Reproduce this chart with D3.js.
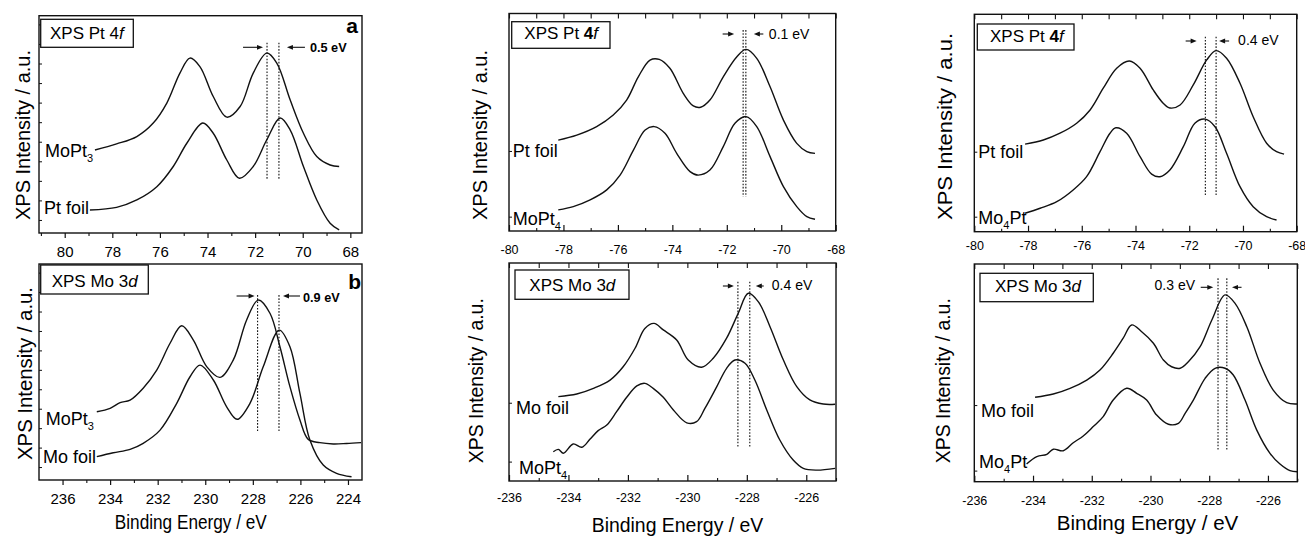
<!DOCTYPE html>
<html>
<head>
<meta charset="utf-8">
<script src="https://cdn.jsdelivr.net/npm/d3@7"></script>
<style>
  body { margin: 0; background: #fff; }
  svg { display: block; font-family: "Liberation Sans", Arial, Helvetica, sans-serif; }
</style>
</head>
<body>
<svg id="fig" width="1305" height="539"></svg>
<script>
// ---------------- Spectra: [binding energy (eV), intensity (a.u., 0-100)] ----------------

// (a) Pt 4f, positive energy scale
const ptA_MoPt3 = [[78.73,38.2],[77.82,41.0],[76.97,44.4],[76.28,50.6],[75.71,59.8],[75.16,73.6],[74.74,80.5],[74.32,76.6],[73.76,62.8],[73.19,53.3],[72.63,58.2],[72.08,73.6],[71.51,82.8],[71.09,78.2],[70.53,61.3],[69.97,45.9],[69.41,35.2],[68.85,31.3],[68.47,30.6]];
const ptA_foil  = [[78.94,10.6],[77.82,11.8],[76.97,15.2],[76.13,21.3],[75.44,30.6],[74.87,41.3],[74.20,50.6],[73.76,45.9],[73.19,33.6],[72.66,25.2],[72.08,30.6],[71.51,42.9],[70.95,52.9],[70.53,47.5],[69.97,30.6],[69.41,15.2],[68.85,4.5],[68.47,1.4]];
const ptA_shift = [71.5, 71.0];

// (b) Mo 3d, positive energy scale
const moB_MoPt3 = [[234.56,31.6],[234.00,33.2],[233.58,35.8],[233.16,37.0],[232.61,42.5],[232.04,50.9],[231.48,63.3],[230.99,71.4],[230.50,64.8],[229.94,52.5],[229.38,47.5],[228.82,55.6],[228.26,74.1],[227.77,83.3],[227.28,77.2],[226.86,61.7],[226.44,43.2],[226.02,27.8],[225.67,18.8],[225.18,17.3],[224.62,16.7],[224.06,16.9],[223.45,17.3]];
const moB_foil  = [[234.56,10.8],[233.87,12.6],[233.16,14.2],[232.61,17.0],[231.90,23.1],[231.20,35.5],[230.64,47.8],[230.22,53.2],[229.66,46.3],[229.10,33.9],[228.66,28.1],[228.12,35.5],[227.56,52.5],[226.89,69.4],[226.44,61.7],[226.02,40.1],[225.60,18.5],[225.04,6.9],[224.48,3.1],[223.85,1.5]];
const moB_shift = [227.8, 226.9];

// Pt 4f, Pt foil vs MoPt4
const ptMid_foil  = [[-78.19,41.8],[-77.51,44.1],[-76.78,48.0],[-76.17,53.3],[-75.68,60.2],[-75.25,70.9],[-74.82,78.6],[-74.48,78.9],[-74.09,74.8],[-73.60,63.3],[-73.23,57.5],[-72.96,56.9],[-72.62,60.2],[-72.13,70.9],[-71.63,80.1],[-71.29,83.5],[-70.90,79.4],[-70.41,66.3],[-69.92,51.0],[-69.43,40.3],[-69.06,36.5],[-68.76,35.7]];
const ptMid_MoPt4 = [[-78.19,9.7],[-77.64,11.2],[-77.02,14.3],[-76.41,18.9],[-75.92,25.7],[-75.43,37.2],[-75.00,46.4],[-74.67,48.0],[-74.27,44.9],[-73.84,35.7],[-73.35,27.3],[-73.05,25.7],[-72.62,28.0],[-72.13,38.8],[-71.70,49.5],[-71.29,52.6],[-70.90,48.0],[-70.41,34.2],[-69.92,20.4],[-69.43,11.2],[-69.06,6.6],[-68.76,5.4]];
const ptMid_shift = [-71.4, -71.3];

// Mo 3d, Mo foil vs MoPt4
const moMid_foil  = [[-234.34,38.7],[-233.72,39.9],[-233.16,42.5],[-232.60,46.3],[-232.16,52.4],[-231.76,60.9],[-231.43,70.0],[-231.12,72.3],[-230.81,69.3],[-230.36,64.7],[-229.97,55.5],[-229.52,52.2],[-229.13,56.3],[-228.68,65.5],[-228.29,76.9],[-227.95,86.1],[-227.61,82.2],[-227.22,70.8],[-226.77,55.5],[-226.32,43.3],[-225.88,37.2],[-225.43,35.3],[-225.03,35.2]];
const moMid_MoPt4 = [[-234.51,13.4],[-234.34,14.5],[-234.17,12.7],[-233.84,17.0],[-233.55,15.5],[-233.28,19.1],[-233.00,23.1],[-232.71,25.7],[-232.38,31.8],[-232.04,38.4],[-231.70,43.6],[-231.43,44.8],[-231.15,42.5],[-230.81,38.4],[-230.47,32.6],[-230.02,26.7],[-229.69,27.2],[-229.41,33.3],[-229.01,43.3],[-228.68,51.7],[-228.40,55.5],[-228.06,54.0],[-227.73,46.3],[-227.33,32.6],[-226.89,18.8],[-226.44,9.6],[-226.10,5.8],[-225.65,5.0],[-225.03,5.8]];
const moMid_shift = [-228.3, -227.9];

// Pt 4f, Pt foil vs Mo4Pt
const ptRight_foil  = [[-78.11,40.3],[-77.43,42.2],[-76.81,45.3],[-76.19,49.9],[-75.69,56.0],[-75.20,66.0],[-74.70,75.2],[-74.23,78.5],[-73.83,75.2],[-73.34,65.2],[-72.97,59.1],[-72.72,56.9],[-72.34,58.3],[-71.85,67.5],[-71.35,79.0],[-71.00,83.3],[-70.61,79.8],[-70.11,68.3],[-69.62,52.9],[-69.12,40.7],[-68.75,36.8],[-68.47,35.7]];
const ptRight_Mo4Pt = [[-78.11,8.5],[-77.55,10.8],[-76.93,13.8],[-76.32,19.2],[-75.82,25.3],[-75.32,36.8],[-74.95,45.3],[-74.73,47.8],[-74.33,45.3],[-73.83,34.5],[-73.40,26.5],[-73.09,25.3],[-72.72,28.4],[-72.22,39.1],[-71.79,49.9],[-71.41,51.8],[-71.04,48.3],[-70.61,36.1],[-70.11,20.7],[-69.62,11.5],[-69.12,6.9],[-68.75,5.4]];
const ptRight_shift = [-71.4, -71.0];

// Mo 3d, Mo foil vs Mo4Pt
const moRight_foil  = [[-233.93,38.8],[-233.31,40.3],[-232.74,42.9],[-232.17,46.7],[-231.72,51.3],[-231.27,59.0],[-230.93,65.9],[-230.64,72.0],[-230.30,68.9],[-229.90,63.6],[-229.56,55.9],[-229.28,52.8],[-228.99,52.1],[-228.71,55.1],[-228.31,62.0],[-227.91,74.3],[-227.46,85.8],[-227.12,81.9],[-226.72,71.2],[-226.27,54.4],[-225.82,42.1],[-225.36,36.3],[-225.00,35.7]];
const moRight_Mo4Pt = [[-234.22,8.1],[-233.87,11.5],[-233.53,12.6],[-233.31,14.9],[-232.97,14.2],[-232.63,17.9],[-232.29,21.0],[-231.95,25.3],[-231.61,29.9],[-231.27,37.5],[-230.81,42.9],[-230.47,40.6],[-230.13,37.5],[-229.79,30.6],[-229.39,26.4],[-229.05,26.8],[-228.82,31.4],[-228.54,37.5],[-228.14,47.5],[-227.80,52.1],[-227.46,52.1],[-227.18,49.0],[-226.78,37.5],[-226.38,23.7],[-225.93,13.0],[-225.59,8.1],[-225.25,5.1],[-225.00,4.6]];
const moRight_shift = [-227.7, -227.4];

// Tick labels
const ptTicksPos = [80, 78, 76, 74, 72, 70, 68];
const moTicksPos = [236, 234, 232, 230, 228, 226, 224];
const ptTicksNeg = [-80, -78, -76, -74, -72, -70, -68];
const moTicksNeg = [-236, -234, -232, -230, -228, -226];

// ---------------- Layout of the six panels ----------------
const INK = "#111";
const yTitle = "XPS Intensity / a.u.";
const xTitle = "Binding Energy / eV";

const panels = [
  { xDomain: [81.08, 67.51], left: 39, right: 362, top: 15.7, bottom: 233,
    ticks: ptTicksPos, out: true, tickFs: 15, tickBase: 23.7, topTicks: false,
    yTicks: d3.range(6, 100, 9),
    series: [ptA_MoPt3, ptA_foil],
    labels: [{ parts: [["MoPt"], ["3", "sub"]], x: 45, y: 157 }, { parts: [["Pt foil"]], x: 44, y: 214 }],
    box: { x: 40.7, y: 19.3, w: 92.6, h: 28, tx: 50, ty: 39.3, core: "Pt", level: "4", orb: "f", boldLevel: false },
    letter: { t: "a", x: 358, y: 33 },
    shift: { lines: ptA_shift, vTop: 87.6, vBot: 24.4, ay: 47.3, gapR: 4, lenR: 20, gapL: 8, lenL: 18, tdx: 31, ty: 51.7, bold: true, fs: 12.7, side: "right" },
    yT: { x: 30, y: 135, len: 170 } },
  { xDomain: [236.99, 223.41], left: 39, right: 362, top: 264, bottom: 480,
    ticks: moTicksPos, out: true, tickFs: 15, tickBase: 23.5, topTicks: false,
    yTicks: d3.range(6, 100, 9),
    series: [moB_MoPt3, moB_foil],
    labels: [{ parts: [["MoPt"], ["3", "sub"]], x: 45.7, y: 425 }, { parts: [["Mo foil"]], x: 43, y: 462.7 }],
    box: { x: 40.7, y: 265, w: 107.6, h: 29, tx: 51.7, ty: 286.7, core: "Mo", level: "3", orb: "d", boldLevel: false },
    letter: { t: "b", x: 361, y: 289 },
    shift: { lines: moB_shift, vTop: 85.6, vBot: 22.4, ay: 296, gapR: 3, lenR: 18, gapL: 4, lenL: 17, tdx: 24, ty: 301.5, bold: true, fs: 12.7, side: "right" },
    yT: { x: 31.7, y: 373.5, len: 173 },
    xT: { x: 190.8, y: 529.3, len: 152 } },
  { xDomain: [-80, -68], left: 509, right: 835.7, top: 13.5, bottom: 231,
    ticks: ptTicksNeg, out: false, tickFs: 12.5, tickBase: 22.5, topTicks: true,
    yTicks: [36.8, 6.6],
    series: [ptMid_foil, ptMid_MoPt4],
    labels: [{ parts: [["Pt foil"]], x: 512.7, y: 156.7 }, { parts: [["MoPt"], ["4", "sub"]], x: 512.7, y: 225 }],
    box: { x: 511.7, y: 21.7, w: 98.3, h: 26.6, tx: 524.3, ty: 39.3, core: "Pt", level: "4", orb: "f", boldLevel: true },
    shift: { lines: ptMid_shift, vTop: 92.4, vBot: 15.8, ay: 34, gapR: 9, lenR: 11.5, gapL: 8, lenL: 9.5, tdx: 23, ty: 38.5, bold: false, fs: 14, side: "right" },
    yT: { x: 486.7, y: 135, len: 170 } },
  { xDomain: [-236, -225], left: 509, right: 836, top: 263, bottom: 481,
    ticks: moTicksNeg, out: false, tickFs: 12.5, tickBase: 20.7, topTicks: true,
    yTicks: [35.9, 8.9],
    series: [moMid_foil, moMid_MoPt4],
    labels: [{ parts: [["Mo foil"]], x: 516, y: 414 }, { parts: [["MoPt"], ["4", "sub"]], x: 519, y: 473.5 }],
    box: { x: 515, y: 270, w: 114, h: 29.3, tx: 529.3, ty: 290.7, core: "Mo", level: "3", orb: "d", boldLevel: false },
    shift: { lines: moMid_shift, vTop: 91.4, vBot: 15.7, ay: 286, gapR: 4, lenR: 11, gapL: 6, lenL: 8, tdx: 22, ty: 289.5, bold: false, fs: 14, side: "right" },
    yT: { x: 483.3, y: 380.7, len: 165 },
    xT: { x: 677.5, y: 531.7, len: 171.6 } },
  { xDomain: [-80, -68], left: 974.3, right: 1296.7, top: 14.3, bottom: 231.7,
    ticks: ptTicksNeg, out: false, tickFs: 12.5, tickBase: 18.5, topTicks: true,
    yTicks: [36.8, 6.9],
    series: [ptRight_foil, ptRight_Mo4Pt],
    labels: [{ parts: [["Pt foil"]], x: 978.3, y: 158.3 }, { parts: [["Mo"], ["4", "sub"], ["Pt", "up"]], x: 978.3, y: 224 }],
    box: { x: 977.3, y: 24, w: 96.7, h: 26, tx: 990, ty: 41.7, core: "Pt", level: "4", orb: "f", boldLevel: true },
    shift: { lines: ptRight_shift, vTop: 89.7, vBot: 16.1, ay: 41, gapR: 8.7, lenR: 11, gapL: 3, lenL: 10, tdx: 22, ty: 45, bold: false, fs: 14, side: "right" },
    yT: { x: 951.7, y: 126.5, len: 187 } },
  { xDomain: [-236, -225], left: 974.3, right: 1297.3, top: 264, bottom: 481.7,
    ticks: moTicksNeg, out: false, tickFs: 12.5, tickBase: 23, topTicks: true,
    yTicks: [35.2, 5.1],
    series: [moRight_foil, moRight_Mo4Pt],
    labels: [{ parts: [["Mo foil"]], x: 981, y: 416.7 }, { parts: [["Mo"], ["4", "sub"], ["Pt", "up"]], x: 979, y: 468.3 }],
    box: { x: 980, y: 273.3, w: 113.3, h: 28.4, tx: 995, ty: 291.7, core: "Mo", level: "3", orb: "d", boldLevel: false },
    shift: { lines: moRight_shift, vTop: 93.4, vBot: 14.6, ay: 287.3, gapR: 4.7, lenR: 12.6, gapL: 5.2, lenL: 9.5, tdx: -23, ty: 290, bold: false, fs: 14, side: "left" },
    yT: { x: 950, y: 380.7, len: 165 },
    xT: { x: 1147.5, y: 530, len: 181.6 } }
];

// ---------------- Drawing ----------------
const svg = d3.select("#fig");
svg.append("rect").attr("width", 1305).attr("height", 539).attr("fill", "#fff");

function arrowHead(g, xTip, y, dir) {
  // dir: +1 points right, -1 points left
  const L = 6, W = 2.4;
  g.append("path")
    .attr("d", `M${xTip},${y} L${xTip - dir * L},${y - W} L${xTip - dir * L},${y + W} Z`)
    .attr("fill", INK);
}

panels.forEach(p => {
  const g = svg.append("g");
  const x = d3.scaleLinear().domain(p.xDomain).range([p.left, p.right]);
  const y = d3.scaleLinear().domain([0, 100]).range([p.bottom, p.top]);

  // bottom axis: major (labelled) and minor ticks
  const lo = Math.min(...p.xDomain), hi = Math.max(...p.xDomain);
  const minor = d3.range(Math.ceil(lo), Math.floor(hi) + 1).filter(v => !p.ticks.includes(v));
  const majSize = p.out ? 5 : -6, minSize = p.out ? 3 : -3;
  const pad = p.tickBase - 0.71 * p.tickFs - Math.max(majSize, 0);

  const axB = g.append("g").attr("transform", `translate(0,${p.bottom})`)
    .call(d3.axisBottom(x).tickValues(p.ticks).tickSize(majSize).tickPadding(pad).tickFormat(v => String(v)));
  axB.select(".domain").remove();
  axB.selectAll("line").attr("stroke", INK).attr("stroke-width", 1.2);
  axB.selectAll("text").attr("font-size", p.tickFs).attr("fill", "#000")
    .attr("font-family", '"Liberation Sans", Arial, sans-serif');

  const axBm = g.append("g").attr("transform", `translate(0,${p.bottom})`)
    .call(d3.axisBottom(x).tickValues(minor).tickSize(minSize).tickFormat(""));
  axBm.select(".domain").remove();
  axBm.selectAll("line").attr("stroke", INK).attr("stroke-width", 1.1);

  if (p.topTicks) {
    const axT = g.append("g").attr("transform", `translate(0,${p.top})`)
      .call(d3.axisTop(x).tickValues(p.ticks.concat(minor)).tickSize(-5).tickFormat(""));
    axT.select(".domain").remove();
    axT.selectAll("line").attr("stroke", INK).attr("stroke-width", 1.1);
  }

  const axL = g.append("g").attr("transform", `translate(${p.left},0)`)
    .call(d3.axisLeft(y).tickValues(p.yTicks).tickSize(-3).tickFormat(""));
  axL.select(".domain").remove();
  axL.selectAll("line").attr("stroke", INK).attr("stroke-width", 1);

  // frame
  g.append("rect")
    .attr("x", p.left).attr("y", p.top)
    .attr("width", p.right - p.left).attr("height", p.bottom - p.top)
    .attr("fill", "none").attr("stroke", INK).attr("stroke-width", 1.4);

  // spectra
  const line = d3.line().x(d => x(d[0])).y(d => y(d[1])).curve(d3.curveCatmullRom.alpha(0.5));
  p.series.forEach(s => {
    g.append("path").attr("d", line(s))
      .attr("fill", "none").attr("stroke", INK).attr("stroke-width", 1.4)
      .attr("stroke-linejoin", "round");
  });

  // curve labels
  p.labels.forEach(l => {
    const t = g.append("text").attr("x", l.x).attr("y", l.y)
      .attr("font-size", 18).attr("fill", "#000");
    l.parts.forEach(([str, kind]) => {
      const ts = t.append("tspan").text(str);
      if (kind === "sub") ts.attr("font-size", 11).attr("dy", 5);
      if (kind === "up") ts.attr("dy", -5);
    });
  });

  // core-level box
  const b = p.box;
  g.append("rect").attr("x", b.x).attr("y", b.y).attr("width", b.w).attr("height", b.h)
    .attr("fill", "#fff").attr("stroke", INK).attr("stroke-width", 1.3);
  const bt = g.append("text").attr("x", b.tx).attr("y", b.ty).attr("font-size", 17).attr("fill", "#000");
  bt.append("tspan").text(`XPS ${b.core} `);
  bt.append("tspan").text(b.level).attr("font-weight", b.boldLevel ? "bold" : "normal");
  bt.append("tspan").text(b.orb).attr("font-style", "italic");

  if (p.letter) {
    g.append("text").attr("x", p.letter.x).attr("y", p.letter.y).attr("text-anchor", "end")
      .attr("font-size", 21).attr("font-weight", "bold").attr("fill", "#000").text(p.letter.t);
  }

  // peak-shift markers
  const sh = p.shift;
  const [e1, e2] = sh.lines;
  const xa = Math.min(x(e1), x(e2)), xb = Math.max(x(e1), x(e2));
  [e1, e2].forEach(e => {
    g.append("line").attr("x1", x(e)).attr("x2", x(e)).attr("y1", y(sh.vTop)).attr("y2", y(sh.vBot))
      .attr("stroke", INK).attr("stroke-width", 1.1).attr("stroke-dasharray", "1.6,1.6");
  });
  const tipR = xa - sh.gapR, tipL = xb + sh.gapL;
  g.append("line").attr("x1", tipR - sh.lenR).attr("x2", tipR - 3).attr("y1", sh.ay).attr("y2", sh.ay)
    .attr("stroke", INK).attr("stroke-width", 1.1);
  arrowHead(g, tipR, sh.ay, 1);
  g.append("line").attr("x1", tipL + 3).attr("x2", tipL + sh.lenL).attr("y1", sh.ay).attr("y2", sh.ay)
    .attr("stroke", INK).attr("stroke-width", 1.1);
  arrowHead(g, tipL, sh.ay, -1);
  const shiftText = Math.abs(e1 - e2).toFixed(1) + " eV";
  g.append("text")
    .attr("x", sh.side === "right" ? xb + sh.tdx : xa + sh.tdx)
    .attr("y", sh.ty)
    .attr("text-anchor", sh.side === "right" ? "start" : "end")
    .attr("font-size", sh.fs).attr("font-weight", sh.bold ? "bold" : "normal")
    .attr("fill", "#000").text(shiftText);

  // axis titles
  g.append("text")
    .attr("transform", `translate(${p.yT.x},${p.yT.y}) rotate(-90)`)
    .attr("text-anchor", "middle").attr("font-size", 21).attr("fill", "#000")
    .attr("textLength", p.yT.len).attr("lengthAdjust", "spacingAndGlyphs")
    .text(yTitle);
  if (p.xT) {
    g.append("text").attr("x", p.xT.x).attr("y", p.xT.y)
      .attr("text-anchor", "middle").attr("font-size", 20).attr("fill", "#000")
      .attr("textLength", p.xT.len).attr("lengthAdjust", "spacingAndGlyphs")
      .text(xTitle);
  }
});
</script>
</body>
</html>
